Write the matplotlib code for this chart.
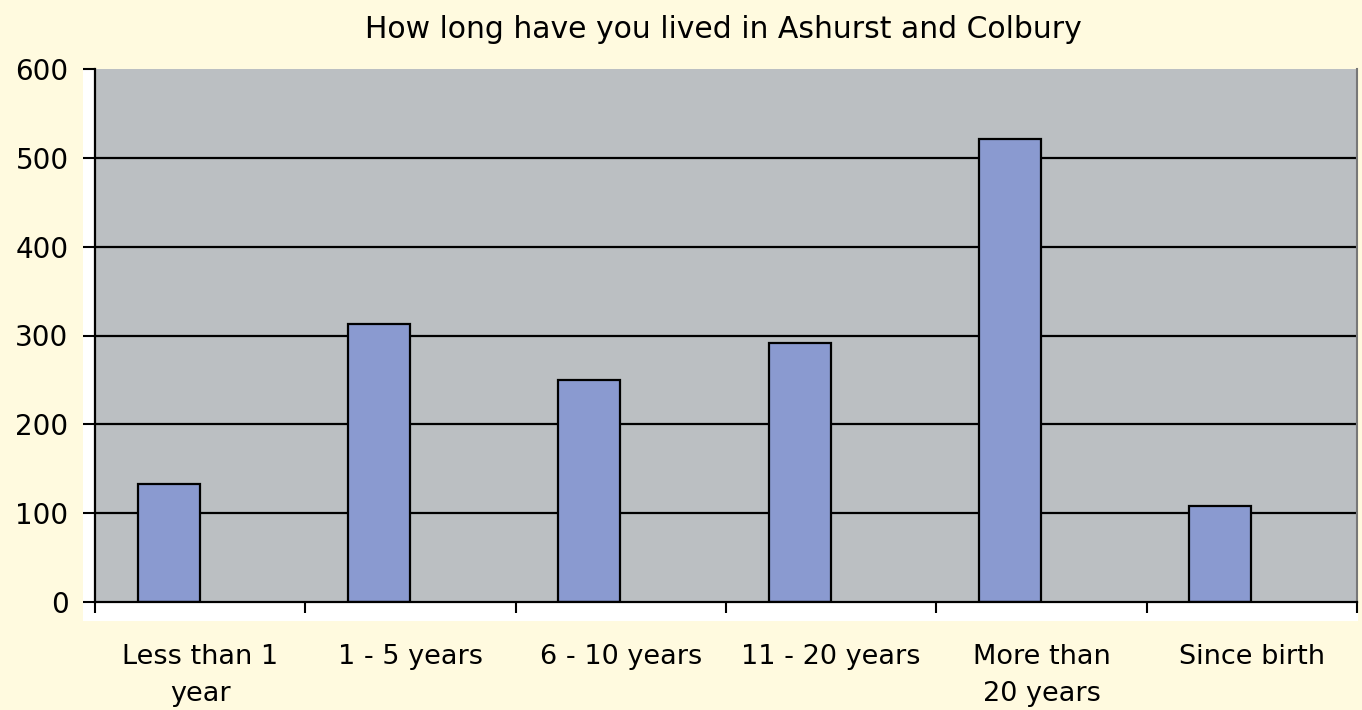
import matplotlib.pyplot as plt
import matplotlib.patches as mpatches
import numpy as np

# data
categories = ["Less than 1\nyear", "1 - 5 years", "6 - 10 years",
              "11 - 20 years", "More than\n20 years", "Since birth"]
counts = [133, 313, 250, 292, 521, 108]
yticks = [0, 100, 200, 300, 400, 500, 600]

bg = "#FFFADF"
plot_bg = "#BBBFC2"
bar_color = "#8A9AD0"

plt.rcParams["font.family"] = ["DejaVu Sans"]

fig = plt.figure(figsize=(13.62, 7.1), dpi=100, facecolor=bg)

# white frame behind the plot area (left and bottom strip)
fig.patches.append(mpatches.Rectangle((83 / 1362, 1 - 621 / 710), 1275 / 1362, 552 / 710,
                                      transform=fig.transFigure, facecolor="white",
                                      edgecolor="none", zorder=-5))

ax = fig.add_axes([95 / 1362, 1 - 602 / 710, 1262 / 1362, 533 / 710])
ax.set_zorder(2)
ax.set_facecolor(plot_bg)

x = np.arange(len(categories))
ax.set_xlim(-0.5, len(categories) - 0.5)
ax.set_ylim(0, 600)

ax.hlines(yticks[1:-1], -0.5, len(categories) - 0.5, colors="black", linewidth=1.6, zorder=1)
ax.bar(x - 0.15, counts, width=0.295, color=bar_color, edgecolor="black",
       linewidth=1.6, zorder=2)

ax.set_yticks(yticks)
ax.set_yticklabels([str(v) for v in yticks], fontsize=20)
ax.tick_params(axis="y", length=9, width=1.5, pad=10, color="black")

ax.set_xticks(x)
ax.set_xticklabels(categories, fontsize=19.5, linespacing=1.55)
ax.tick_params(axis="x", which="major", length=0, pad=30)
ax.set_xticks(np.arange(-0.5, len(categories)), minor=True)
ax.tick_params(axis="x", which="minor", length=8, width=1.5, color="black")

for side in ["left", "bottom"]:
    ax.spines[side].set_linewidth(1.6)
    ax.spines[side].set_color("black")
ax.spines["top"].set_visible(False)
ax.spines["right"].set_color("#777777")
ax.spines["right"].set_linewidth(1.5)

fig.text(723 / 1362, 1 - 30 / 710, "How long have you lived in Ashurst and Colbury",
         fontsize=21.5, ha="center", va="center")

fig.savefig("out.png", dpi=100, facecolor=bg)
